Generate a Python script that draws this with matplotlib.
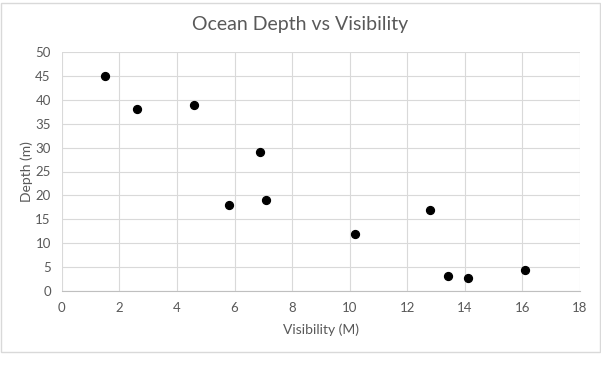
import matplotlib.pyplot as plt
from matplotlib.patches import Rectangle

visibility = [1.5, 2.6, 4.6, 5.8, 6.9, 7.1, 10.2, 12.8, 13.4, 14.1, 16.1]
depth = [45, 38, 39, 18, 29, 19, 12, 17, 3.2, 2.7, 4.3]
x_ticks = list(range(0, 19, 2))
y_ticks = list(range(0, 51, 5))

plt.rcParams['font.family'] = ['Lato', 'DejaVu Sans']
text_col = '#595959'
grid_col = '#d9d9d9'

fig = plt.figure(figsize=(6.01, 3.92), dpi=100)
fig.patches.append(Rectangle((0.001, 0.102), 0.997, 0.89, transform=fig.transFigure,
                             fill=False, edgecolor='#d9d9d9', linewidth=1))

ax = fig.add_axes([0.103, 0.258, 0.862, 0.609])
ax.scatter(visibility, depth, s=32, color='black', zorder=3)
ax.set_xlim(0, 18)
ax.set_ylim(0, 50)
ax.set_xticks(x_ticks)
ax.set_yticks(y_ticks)
ax.grid(True, color=grid_col, linewidth=0.8)
ax.set_axisbelow(True)
for side in ['top', 'right', 'left']:
    ax.spines[side].set_visible(False)
ax.spines['bottom'].set_color('#bfbfbf')
ax.tick_params(length=0, colors=text_col, labelsize=9.5, pad=8)
ax.set_xlabel('Visibility (M)', color=text_col, fontsize=10, labelpad=7)
ax.set_ylabel('Depth (m)', color=text_col, fontsize=10, labelpad=2)
fig.suptitle('Ocean Depth vs Visibility', x=0.5, y=0.958, color=text_col, fontsize=14)

fig.savefig('out.png', dpi=100)
